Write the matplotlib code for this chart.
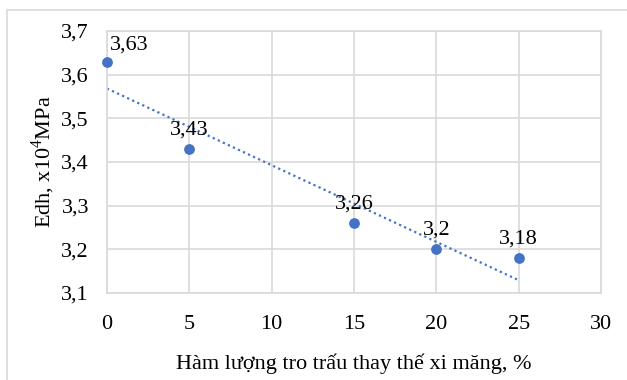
import numpy as np
import matplotlib
matplotlib.use("Agg")
import matplotlib.pyplot as plt
from matplotlib.patches import Rectangle

# Data
replacement_pct = [0, 5, 15, 20, 25]
edh_values = [3.63, 3.43, 3.26, 3.20, 3.18]
value_labels = ["3,63", "3,43", "3,26", "3,2", "3,18"]
x_ticks = [0, 5, 10, 15, 20, 25, 30]
x_tick_labels = ["0", "5", "10", "15", "20", "25", "30"]
y_ticks = [3.1, 3.2, 3.3, 3.4, 3.5, 3.6, 3.7]
y_tick_labels = ["3,1", "3,2", "3,3", "3,4", "3,5", "3,6", "3,7"]
x_label = "Hàm lượng tro trấu thay thế xi măng, %"
y_label = "Edh, x10$^4$MPa"

plt.rcParams['font.family'] = ['Liberation Serif', 'DejaVu Serif']
plt.rcParams['mathtext.fontset'] = 'custom'
plt.rcParams['mathtext.rm'] = 'Liberation Serif'

W, H = 627, 380
FS = 16
fig = plt.figure(figsize=(W / 100, H / 100), dpi=100)

# outer chart frame (partially visible)
fig.patches.append(Rectangle((7 / W, -0.1), 1.2, 1 - 10 / H + 0.1,
                             transform=fig.transFigure, fill=False,
                             edgecolor='#D9D9D9', linewidth=1.2))

ax = fig.add_axes([107 / W, 1 - 293 / H, (601 - 107) / W, (293 - 31) / H])
ax.set_xlim(0, 30)
ax.set_ylim(3.1, 3.7)
ax.set_xticks(x_ticks)
ax.set_xticklabels(x_tick_labels)
ax.set_yticks(y_ticks)
ax.set_yticklabels(y_tick_labels)
ax.tick_params(axis='both', length=0, labelsize=FS)
ax.tick_params(axis='y', pad=13)
ax.tick_params(axis='x', pad=16)
ax.grid(True, color='#D9D9D9', linewidth=1.2)
ax.set_axisbelow(True)
for s in ax.spines.values():
    s.set_color('#D9D9D9')
    s.set_linewidth(1.2)

color = '#4472C4'
ax.scatter(replacement_pct, edh_values, s=45, color=color, zorder=3, clip_on=False)

# linear trendline
coef = np.polyfit(replacement_pct, edh_values, 1)
xt = np.array([min(replacement_pct), max(replacement_pct)])
ax.plot(xt, np.polyval(coef, xt), color=color, linestyle=(0, (1, 1.5)),
        linewidth=1.6, zorder=2)

for i, (xv, yv, lab) in enumerate(zip(replacement_pct, edh_values, value_labels)):
    if i == 0:
        ax.annotate(lab, (xv, yv), xytext=(2, 5), textcoords='offset points',
                    ha='left', va='bottom', fontsize=FS)
    else:
        ax.annotate(lab, (xv, yv), xytext=(0, 7), textcoords='offset points',
                    ha='center', va='bottom', fontsize=FS)

ax.set_xlabel(x_label, fontsize=FS)
ax.xaxis.set_label_coords(0.5, (293 - 354) / (293 - 31), transform=ax.transAxes)
ax.set_ylabel(y_label, fontsize=FS, va='center')
ax.yaxis.set_label_coords((43 - 107) / (601 - 107), (293 - 162) / (293 - 31),
                          transform=ax.transAxes)

fig.savefig("out.png", dpi=100)
